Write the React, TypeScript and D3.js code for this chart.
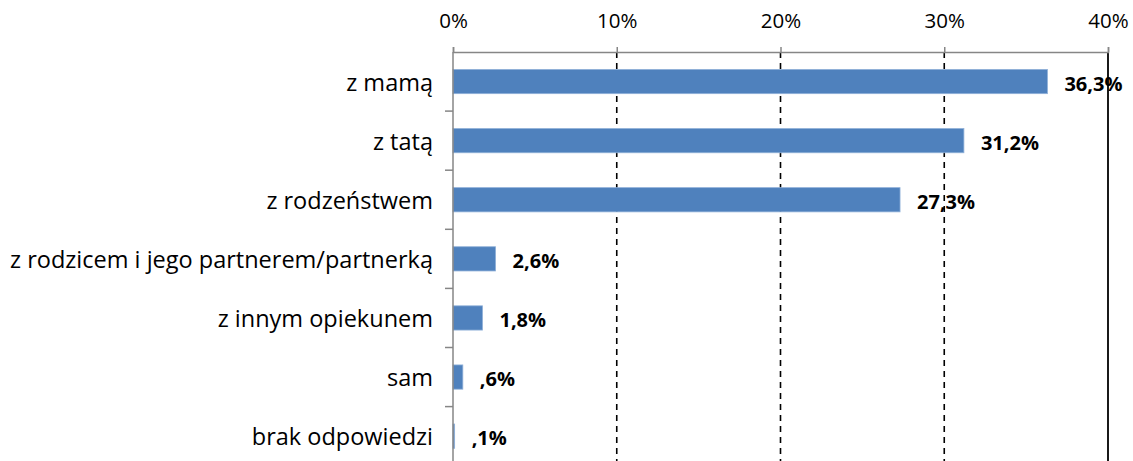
import React, { useRef, useEffect } from 'react';
import * as d3 from 'd3';

const categories = [
  'z mamą',
  'z tatą',
  'z rodzeństwem',
  'z rodzicem i jego partnerem/partnerką',
  'z innym opiekunem',
  'sam',
  'brak odpowiedzi',
];
const values = [36.3, 31.2, 27.3, 2.6, 1.8, 0.6, 0.1];
const xTicks = [0, 10, 20, 30, 40];

const W = 1133;
const H = 461;

const fmtValue = (v: number) => v.toFixed(1).replace('.', ',').replace(/^0/, '') + '%';

const App = () => {
  const ref = useRef<SVGSVGElement>(null);

  useEffect(() => {
    const svg = d3.select(ref.current);
    svg.selectAll('*').remove();

    const left = 453;
    const right = 1108;
    const top = 52;
    const step = 59.1;

    const x = d3.scaleLinear().domain([0, 40]).range([left, right]);
    const y = d3
      .scaleBand()
      .domain(categories)
      .range([top, top + step * categories.length])
      .paddingInner(0.59)
      .paddingOuter(0.295);

    const font = "'Open Sans', sans-serif";

    // grid lines
    svg
      .append('g')
      .selectAll('line')
      .data(xTicks.filter((t) => t > 0))
      .enter()
      .append('line')
      .attr('x1', (d) => x(d))
      .attr('x2', (d) => x(d))
      .attr('y1', top)
      .attr('y2', H)
      .attr('stroke', '#000')
      .attr('stroke-width', (d) => (d === 40 ? 1.8 : 1.6))
      .attr('stroke-dasharray', (d) => (d === 40 ? null : '6,5'));

    // bars
    svg
      .append('g')
      .selectAll('rect')
      .data(values)
      .enter()
      .append('rect')
      .attr('x', x(0))
      .attr('y', (d, i) => y(categories[i]))
      .attr('width', (d) => x(d) - x(0))
      .attr('height', y.bandwidth())
      .attr('fill', '#4F81BD')
      .attr('stroke', '#8FB0D8')
      .attr('stroke-width', 0.8);

    // top axis
    const xAxis = d3
      .axisTop(x)
      .tickValues(xTicks)
      .tickFormat((d) => d + '%')
      .tickSize(5)
      .tickPadding(19);
    const gx = svg.append('g').attr('transform', `translate(0,${top})`).call(xAxis);
    gx.select('.domain').attr('stroke', '#868686').attr('stroke-width', 1.5);
    gx.selectAll('.tick line').attr('stroke', '#868686').attr('stroke-width', 1.5);
    gx.selectAll('.tick text')
      .attr('fill', '#000')
      .style('font-family', font)
      .style('font-size', '20.5px');

    // left axis
    const ga = svg.append('g');
    ga.append('line')
      .attr('x1', left)
      .attr('x2', left)
      .attr('y1', top)
      .attr('y2', H)
      .attr('stroke', '#868686')
      .attr('stroke-width', 1.5);
    ga.selectAll('.ctick')
      .data(d3.range(1, categories.length))
      .enter()
      .append('line')
      .attr('x1', left - 8)
      .attr('x2', left)
      .attr('y1', (d) => top + d * y.step())
      .attr('y2', (d) => top + d * y.step())
      .attr('stroke', '#868686')
      .attr('stroke-width', 1.5);

    // category labels
    svg
      .append('g')
      .selectAll('text')
      .data(categories)
      .enter()
      .append('text')
      .attr('x', 433)
      .attr('y', (d) => y(d) + y.bandwidth() / 2 + 9)
      .attr('text-anchor', 'end')
      .style('font-family', font)
      .style('font-size', '23.5px')
      .text((d) => d);

    // value labels
    svg
      .append('g')
      .selectAll('text')
      .data(values)
      .enter()
      .append('text')
      .attr('x', (d) => x(d) + 17)
      .attr('y', (d, i) => y(categories[i]) + y.bandwidth() / 2 + 9)
      .style('font-family', font)
      .style('font-size', '20px')
      .style('font-weight', 'bold')
      .text((d) => fmtValue(d));
  }, []);

  return (
    <svg
      ref={ref}
      width={W}
      height={H}
      style={{ position: 'absolute', left: 0, top: 0, background: '#fff' }}
    ></svg>
  );
};

export default App;
